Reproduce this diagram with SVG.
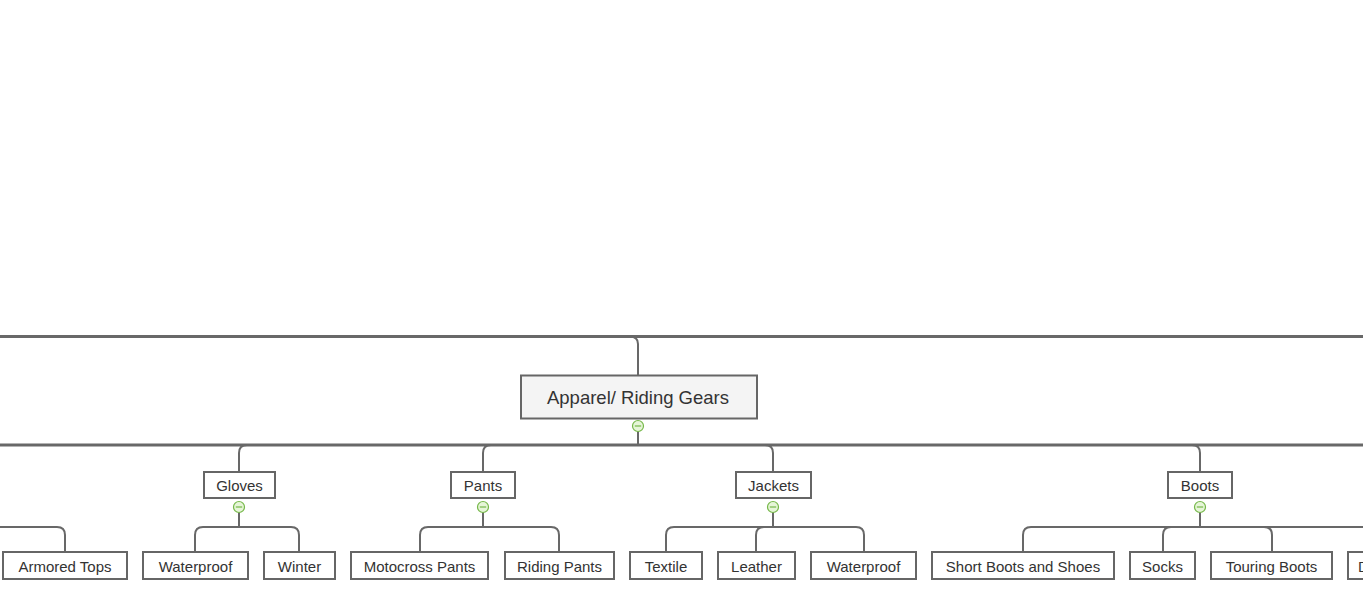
<svg xmlns="http://www.w3.org/2000/svg" width="1363" height="604" viewBox="0 0 1363 604">
<style>
.bg{fill:#ffffff}
.c{fill:none;stroke:#686868;stroke-width:2}
.thick{fill:none;stroke:#686868;stroke-width:3}
.box{fill:#ffffff;stroke:#666666;stroke-width:2}
.root{fill:#f4f4f4;stroke:#666666;stroke-width:2}
.t{font-family:"Liberation Sans",Arial,sans-serif;font-size:15px;fill:#333333;text-anchor:middle;dominant-baseline:central}
.rt{font-family:"Liberation Sans",Arial,sans-serif;font-size:18.5px;fill:#333333;text-anchor:middle;dominant-baseline:central}
.col{fill:#e6f5d8;stroke:#76b84a;stroke-width:1.2}
.colm{stroke:#76b84a;stroke-width:1.2}
</style>
<defs>
<g id="collapse"><circle class="col" cx="0" cy="0" r="5.5"/><line class="colm" x1="-3.2" y1="0" x2="3.2" y2="0"/></g>
</defs>
<rect class="bg" x="0" y="0" width="1363" height="604"/>
<g id="connectors">
<line class="thick" x1="0" y1="336.5" x2="1363" y2="336.5"/>
<path class="c" d="M630 336.5 Q638 336.5 638 344 V375"/>
<line class="c" x1="638" y1="431" x2="638" y2="445"/>
<line class="thick" x1="0" y1="445" x2="1363" y2="445"/>
<path class="c" d="M247 445 Q239 445 239 453 V472"/>
<path class="c" d="M491 445 Q483 445 483 453 V472"/>
<path class="c" d="M765 445 Q773 445 773 453 V472"/>
<path class="c" d="M1192 445 Q1200 445 1200 453 V472"/>
<line class="c" x1="239" y1="512" x2="239" y2="527"/>
<line class="c" x1="483" y1="512" x2="483" y2="527"/>
<line class="c" x1="773" y1="512" x2="773" y2="527"/>
<line class="c" x1="1200" y1="512" x2="1200" y2="527"/>
<path class="c" d="M0 527 H57 Q65 527 65 535 V552"/>
<path class="c" d="M195 552 V535 Q195 527 203 527 H291 Q299 527 299 535 V552"/>
<path class="c" d="M420 552 V535 Q420 527 428 527 H551 Q559 527 559 535 V552"/>
<path class="c" d="M666 552 V535 Q666 527 674 527 H856 Q864 527 864 535 V552"/>
<path class="c" d="M756 552 V535 Q756 527 764 527 H773"/>
<path class="c" d="M1023 552 V535 Q1023 527 1031 527 H1363"/>
<path class="c" d="M1163 552 V535 Q1163 527 1171 527 H1264 Q1272 527 1272 535 V552"/>
</g>
<g id="root"><rect class="root" x="521" y="375.5" width="236" height="43"/><text class="rt" x="638" y="397.5">Apparel/ Riding Gears</text><use href="#collapse" x="638" y="426"/></g>
<g id="gloves"><rect class="box" x="204" y="472" width="71" height="26"/><text class="t" x="239.5" y="485">Gloves</text><use href="#collapse" x="239" y="507"/></g>
<g id="pants"><rect class="box" x="451" y="472" width="64" height="26"/><text class="t" x="483" y="485">Pants</text><use href="#collapse" x="483" y="507"/></g>
<g id="jackets"><rect class="box" x="736" y="472" width="75" height="26"/><text class="t" x="773.5" y="485">Jackets</text><use href="#collapse" x="773" y="507"/></g>
<g id="boots"><rect class="box" x="1168" y="472" width="64" height="26"/><text class="t" x="1200" y="485">Boots</text><use href="#collapse" x="1200" y="507"/></g>
<g id="armored-tops"><rect class="box" x="3" y="552" width="124" height="27"/><text class="t" x="65" y="566">Armored Tops</text></g>
<g id="gloves-waterproof"><rect class="box" x="143" y="552" width="105" height="27"/><text class="t" x="195.5" y="566">Waterproof</text></g>
<g id="winter"><rect class="box" x="264" y="552" width="71" height="27"/><text class="t" x="299.5" y="566">Winter</text></g>
<g id="motocross-pants"><rect class="box" x="351" y="552" width="137" height="27"/><text class="t" x="419.5" y="566">Motocross Pants</text></g>
<g id="riding-pants"><rect class="box" x="505" y="552" width="109" height="27"/><text class="t" x="559.5" y="566">Riding Pants</text></g>
<g id="textile"><rect class="box" x="630" y="552" width="72" height="27"/><text class="t" x="666" y="566">Textile</text></g>
<g id="leather"><rect class="box" x="718" y="552" width="77" height="27"/><text class="t" x="756.5" y="566">Leather</text></g>
<g id="jackets-waterproof"><rect class="box" x="811" y="552" width="105" height="27"/><text class="t" x="863.5" y="566">Waterproof</text></g>
<g id="short-boots"><rect class="box" x="932" y="552" width="182" height="27"/><text class="t" x="1023" y="566">Short Boots and Shoes</text></g>
<g id="socks"><rect class="box" x="1130" y="552" width="65" height="27"/><text class="t" x="1162.5" y="566">Socks</text></g>
<g id="touring-boots"><rect class="box" x="1211" y="552" width="121" height="27"/><text class="t" x="1271.5" y="566">Touring Boots</text></g>
<g id="partial"><rect class="box" x="1348" y="552" width="40" height="27"/><text class="t" x="1358" y="566" style="text-anchor:start">D</text></g>
</svg>
